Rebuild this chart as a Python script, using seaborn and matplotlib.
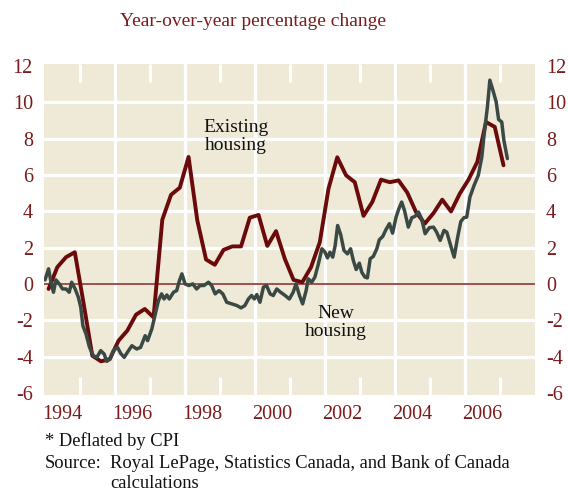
import matplotlib
matplotlib.use("Agg")
import matplotlib.pyplot as plt
import pandas as pd
import seaborn as sns

# Existing housing (quarterly), decimal years and % change
existing_x = [1994.10, 1994.35, 1994.60, 1994.85, 1995.10, 1995.35, 1995.60, 1995.85,
              1996.10, 1996.35, 1996.60, 1996.85, 1997.10, 1997.35, 1997.60, 1997.85,
              1998.10, 1998.35, 1998.60, 1998.85, 1999.10, 1999.35, 1999.60, 1999.85,
              2000.10, 2000.35, 2000.60, 2000.85, 2001.10, 2001.35, 2001.60, 2001.85,
              2002.10, 2002.35, 2002.60, 2002.85, 2003.10, 2003.35, 2003.60, 2003.85,
              2004.10, 2004.35, 2004.60, 2004.85, 2005.10, 2005.35, 2005.60, 2005.85,
              2006.10, 2006.35, 2006.60, 2006.85, 2007.10]
existing_y = [-0.27, 0.93, 1.48, 1.75, -1.05, -3.94, -4.25, -4.12,
              -3.11, -2.56, -1.68, -1.37, -1.83, 3.54, 4.91, 5.30,
              6.99, 3.50, 1.35, 1.06, 1.88, 2.07, 2.07, 3.65,
              3.80, 2.10, 2.91, 1.39, 0.23, 0.10, 0.93, 2.30,
              5.25, 6.97, 5.98, 5.60, 3.75, 4.51, 5.74, 5.60,
              5.70, 5.03, 3.96, 3.32, 3.90, 4.64, 3.99, 4.97,
              5.74, 6.71, 8.91, 8.64, 6.53]

# New housing (monthly-ish), decimal years and % change
new_x = [1994.00, 1994.10, 1994.17, 1994.24, 1994.31, 1994.41, 1994.50, 1994.60, 1994.69, 1994.76,
         1994.86, 1994.95, 1995.02, 1995.08, 1995.17, 1995.27, 1995.38, 1995.48, 1995.59, 1995.69,
         1995.76, 1995.86, 1995.95, 1996.07, 1996.16, 1996.26, 1996.35, 1996.48, 1996.62, 1996.73,
         1996.86, 1996.93, 1997.05, 1997.14, 1997.24, 1997.33, 1997.40, 1997.48, 1997.55, 1997.67,
         1997.76, 1997.84, 1997.91, 1998.00, 1998.11, 1998.22, 1998.33, 1998.43, 1998.54, 1998.67,
         1998.76, 1998.86, 1998.97, 1999.08, 1999.19, 1999.33, 1999.48, 1999.60, 1999.71, 1999.81,
         1999.90, 1999.98, 2000.05, 2000.14, 2000.24, 2000.33, 2000.43, 2000.52, 2000.62, 2000.73,
         2000.86, 2000.98, 2001.09, 2001.17, 2001.27, 2001.36, 2001.46, 2001.52, 2001.62, 2001.71,
         2001.81, 2001.91, 2002.00, 2002.07, 2002.14, 2002.22, 2002.29, 2002.36, 2002.45, 2002.54,
         2002.64, 2002.73, 2002.81, 2002.89, 2002.98, 2003.05, 2003.14, 2003.21, 2003.29, 2003.38,
         2003.48, 2003.55, 2003.65, 2003.74, 2003.84, 2003.93, 2004.03, 2004.11, 2004.19, 2004.27,
         2004.38, 2004.48, 2004.57, 2004.67, 2004.76, 2004.86, 2004.98, 2005.10, 2005.19, 2005.29,
         2005.40, 2005.48, 2005.59, 2005.69, 2005.79, 2005.88, 2005.97, 2006.05, 2006.14, 2006.26,
         2006.38, 2006.48, 2006.55, 2006.64, 2006.71, 2006.81, 2006.89, 2006.96, 2007.05, 2007.11,
         2007.21]
new_y = [0.23, 0.84, 0.10, -0.45, 0.23, 0.00, -0.27, -0.27, -0.45, 0.10,
         -0.27, -0.72, -1.28, -2.29, -2.75, -3.48, -3.94, -4.03, -3.66, -3.85,
         -4.25, -4.12, -3.66, -3.48, -3.81, -4.03, -3.76, -3.39, -3.57, -3.48,
         -2.84, -3.11, -2.47, -1.74, -0.91, -0.54, -0.82, -0.60, -0.82, -0.45,
         -0.36, 0.19, 0.56, 0.01, -0.08, 0.01, -0.27, -0.08, -0.08, 0.10,
         -0.08, -0.54, -0.36, -0.54, -1.00, -1.09, -1.18, -1.31, -1.18, -0.82,
         -0.63, -0.82, -0.58, -1.00, -0.17, -0.08, -0.54, -0.63, -0.27, -0.45,
         -0.63, -0.82, -0.45, 0.01, -0.63, -1.09, -0.36, 0.29, 0.10, 0.38,
         1.11, 1.94, 1.75, 1.44, 1.75, 1.48, 2.12, 3.22, 2.70, 1.85,
         1.66, 1.94, 1.29, 0.80, 1.15, 0.65, 0.38, 0.34, 1.39, 1.52,
         1.94, 2.43, 2.62, 2.99, 3.32, 2.80, 3.68, 4.14, 4.51, 4.05,
         3.13, 3.65, 3.72, 3.96, 3.59, 2.77, 3.10, 3.13, 2.85, 2.40,
         2.95, 2.85, 2.12, 1.48, 2.58, 3.44, 3.65, 3.68, 4.78, 5.43,
         5.98, 6.99, 8.28, 9.74, 11.21, 10.57, 10.02, 9.05, 8.91, 7.91,
         6.90]

year_labels = ["1994", "1996", "1998", "2000", "2002", "2004", "2006"]
label_pos = [1994.5, 1996.5, 1998.5, 2000.5, 2002.5, 2004.5, 2006.5]
grid_years = [1996, 1998, 2000, 2002, 2004, 2006]
odd_years = [1995, 1997, 1999, 2001, 2003, 2005, 2007]
y_ticks = [-6, -4, -2, 0, 2, 4, 6, 8, 10, 12]

RED = "#6b0a0a"
LABEL_RED = "#7a1c1c"
GRAY = "#3b4945"
BG = "#efead8"

sns.set_style("white", {"axes.facecolor": BG})
plt.rcParams["font.family"] = ["Liberation Serif", "DejaVu Serif"]
plt.rcParams["axes.unicode_minus"] = False

existing = pd.DataFrame({"year": existing_x, "pct": existing_y})
new = pd.DataFrame({"year": new_x, "pct": new_y})

fig = plt.figure(figsize=(5.68, 4.91), dpi=100)
ax = fig.add_axes([0.0775, 0.1955, 0.8644, 0.6742])

sns.lineplot(data=existing, x="year", y="pct", color=RED, lw=2.8,
             estimator=None, sort=False, ax=ax, zorder=4)
sns.lineplot(data=new, x="year", y="pct", color=GRAY, lw=2.5,
             estimator=None, sort=False, ax=ax, zorder=5)
ax.axhline(0, color="#a05050", lw=1.4, zorder=3)

ax.set_xlim(1993.97, 2008.0)
ax.set_ylim(-6.1, 12.1)

# grid: even years vertical, inner values horizontal
ax.set_xticks(grid_years)
ax.set_xticklabels([])
ax.set_xticks(odd_years, minor=True)
ax.tick_params(axis="x", which="major", length=0)
ax.tick_params(axis="x", which="minor", direction="in", top=True, bottom=True,
               length=13, width=2.2, color="white")
ax.set_yticks(y_ticks)
ax.tick_params(axis="y", which="major", length=0, left=False, right=False,
               labelleft=True, labelright=True, labelsize=14.5,
               labelcolor=LABEL_RED, pad=8)
ax.grid(True, which="major", color="white", lw=2.3)
ax.set_axisbelow(True)
for g in [ax.yaxis.get_gridlines()[0], ax.yaxis.get_gridlines()[-1],
          ax.yaxis.get_gridlines()[3]]:
    g.set_visible(False)
for s in ax.spines.values():
    s.set_visible(False)
ax.set_xlabel("")
ax.set_ylabel("")

# year labels centred on each labelled year
sec = ax.secondary_xaxis("bottom")
sec.set_xticks(label_pos, year_labels)
sec.tick_params(length=0, labelsize=14.5, labelcolor=LABEL_RED, pad=7)
for s in sec.spines.values():
    s.set_visible(False)

ax.text(1999.46, 8.1, "Existing\nhousing", ha="center", va="center",
        fontsize=14, color="#111111", linespacing=1.1)
ax.text(2002.31, -2.1, "New\nhousing", ha="center", va="center",
        fontsize=14, color="#111111", linespacing=1.1)

fig.text(253 / 568, 1 - 21 / 491, "Year-over-year percentage change",
         ha="center", va="center", fontsize=14, color=LABEL_RED)
fig.text(45 / 568, 1 - 441 / 491, "* Deflated by CPI", ha="left", va="center",
         fontsize=13.3, color="#111111")
fig.text(45 / 568, 1 - 463 / 491, "Source:", ha="left", va="center",
         fontsize=13.3, color="#111111")
fig.text(110 / 568, 1 - 463 / 491, "Royal LePage, Statistics Canada, and Bank of Canada",
         ha="left", va="center", fontsize=13.3, color="#111111")
fig.text(110 / 568, 1 - 483 / 491, "calculations", ha="left", va="center",
         fontsize=13.3, color="#111111")

fig.savefig("out.png", dpi=100)
